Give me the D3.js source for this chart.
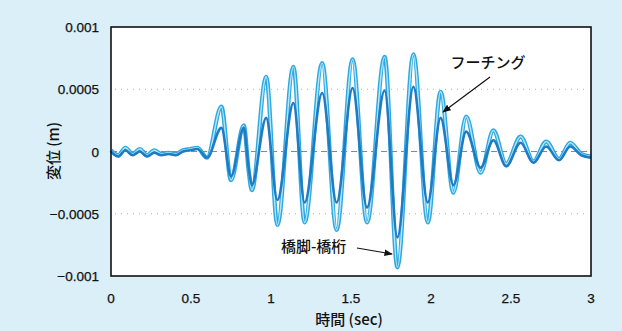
<!DOCTYPE html>
<html>
<head>
<meta charset="utf-8">
<script src="https://cdn.jsdelivr.net/npm/d3@7"></script>
<style>
  html, body { margin: 0; padding: 0; background: #dbeff8; }
  svg { display: block; }
</style>
</head>
<body>
<script>
// time (s)
const times = [0, 0.045, 0.09, 0.135, 0.18, 0.225, 0.27, 0.315, 0.36, 0.405, 0.45, 0.495, 0.54, 0.6,
  0.69, 0.75, 0.83, 0.86, 0.88, 0.97, 1.04, 1.14, 1.21, 1.32, 1.41, 1.51, 1.6, 1.71, 1.79, 1.89,
  1.98, 2.06, 2.14, 2.22, 2.31, 2.39, 2.47, 2.56, 2.64, 2.72, 2.8, 2.87, 2.94, 3.0]

// 橋脚-橋桁 (light, outer curve)
const pierDeck = [0.00001, -0.00003, 0.00003, -0.00002, 0.00002, -0.00003, 0.00001, -0.00002, -0.00001, -0.00002, 0.00001, 0.00002, 0.00003, -0.00005,
  0.00036, -0.00023, 0.00021, -0.00015, -0.00031, 0.0006, -0.00059, 0.00068, -0.00057, 0.00071, -0.00063, 0.00074, -0.00057, 0.00076, -0.00093, 0.00078,
  -0.00057, 0.00048, -0.00033, 0.00028, -0.00017, 0.00017, -0.0001, 0.00012, -0.00008, 0.00008, -0.00006, 0.00007, -0.00002, -0.00004]

// フーチング (darker, inner curve)
const footing = [0, -0.00004, 0.00001, -0.00003, 0, -0.00004, -0.00001, -0.00003, -0.00002, -0.00003, 0, 0.00001, 0.00002, -0.00005,
  0.00019, -0.0002, 0.00019, -0.00013, -0.00027, 0.00027, -0.00039, 0.00039, -0.00041, 0.00047, -0.00041, 0.00051, -0.00045, 0.00049, -0.00069, 0.00052,
  -0.00041, 0.00027, -0.00027, 0.00016, -0.00013, 0.00009, -0.00012, 0.00007, -0.00009, 0.00004, -0.00007, 0.00004, -0.00003, -0.00005]

const xTicks = [0, 0.5, 1, 1.5, 2, 2.5, 3]
const yTicks = [0.001, 0.0005, 0, -0.0005, -0.001]
const yTickLabels = ['0.001', '0.0005', '0', '\u22120.0005', '\u22120.001']

const W = 622, H = 331
const plotL = 111, plotR = 591, plotT = 27, plotB = 276
const font = '"Liberation Sans", Arial, sans-serif'
const jpFont = '"Noto Sans CJK JP", sans-serif'

const svg = d3.select('body').append('svg')
  .attr('width', W)
  .attr('height', H)

svg.append('rect')
  .attr('width', W).attr('height', H)
  .attr('fill', '#dbeff8')

const x = d3.scaleLinear().domain([0, 3]).range([plotL, plotR])
const y = d3.scaleLinear().domain([-0.001, 0.001]).range([plotB, plotT])

svg.append('rect')
  .attr('x', plotL).attr('y', plotT)
  .attr('width', plotR - plotL).attr('height', plotB - plotT)
  .attr('fill', '#fff')

// grid
svg.selectAll('.grid')
  .data([0.0005, -0.0005])
  .enter().append('line')
  .attr('x1', plotL + 4).attr('x2', plotR - 4)
  .attr('y1', d => y(d)).attr('y2', d => y(d))
  .attr('stroke', '#b0b0b0')
  .attr('stroke-width', 1)
  .attr('stroke-dasharray', '1,5')

svg.append('line')
  .attr('x1', plotL).attr('x2', plotR)
  .attr('y1', y(0)).attr('y2', y(0))
  .attr('stroke', '#3d9fd6')
  .attr('stroke-width', 1)
  .attr('stroke-dasharray', '6,4')

// curves
const pts = (vals) => times.map((t, i) => [t, vals[i]])
const line = d3.line()
  .x(d => x(d[0]))
  .y(d => y(d[1]))
  .curve(d3.curveMonotoneX)

svg.append('path')
  .attr('d', line(pts(pierDeck)))
  .attr('fill', 'none')
  .attr('stroke', '#2fa8e0')
  .attr('stroke-width', 4.2)
  .attr('stroke-linejoin', 'round')

svg.append('path')
  .attr('d', line(pts(pierDeck)))
  .attr('fill', 'none')
  .attr('stroke', '#b2e8f8')
  .attr('stroke-width', 1.4)

svg.append('path')
  .attr('d', line(pts(footing)))
  .attr('fill', 'none')
  .attr('stroke', '#1f7cc4')
  .attr('stroke-width', 2.6)
  .attr('stroke-linejoin', 'round')

// frame
svg.append('rect')
  .attr('x', plotL).attr('y', plotT)
  .attr('width', plotR - plotL).attr('height', plotB - plotT)
  .attr('fill', 'none')
  .attr('stroke', '#111')
  .attr('stroke-width', 1.6)

// tick labels
svg.selectAll('.xt')
  .data(xTicks)
  .enter().append('text')
  .attr('x', d => x(d))
  .attr('y', 303)
  .attr('text-anchor', 'middle')
  .attr('font-family', font)
  .attr('font-size', 13.5)
  .attr('fill', '#111')
  .attr('stroke', '#111')
  .attr('stroke-width', 0.25)
  .text(d => d)

svg.selectAll('.yt')
  .data(yTicks)
  .enter().append('text')
  .attr('x', 99)
  .attr('y', d => y(d) + 5)
  .attr('text-anchor', 'end')
  .attr('font-family', font)
  .attr('font-size', 13.5)
  .attr('fill', '#111')
  .attr('stroke', '#111')
  .attr('stroke-width', 0.25)
  .text((d, i) => yTickLabels[i])

// axis titles
svg.append('text')
  .attr('x', 349).attr('y', 325)
  .attr('text-anchor', 'middle')
  .attr('font-family', jpFont)
  .attr('font-size', 15)
  .attr('font-weight', 500)
  .attr('fill', '#111')
  .text('時間 (sec)')

svg.append('text')
  .attr('transform', 'translate(59,151) rotate(-90)')
  .attr('text-anchor', 'middle')
  .attr('font-family', jpFont)
  .attr('font-size', 15)
  .attr('font-weight', 500)
  .attr('fill', '#111')
  .text('変位 (m)')

// annotations
svg.append('defs').append('marker')
  .attr('id', 'arr')
  .attr('viewBox', '0 0 10 10')
  .attr('refX', 9).attr('refY', 5)
  .attr('markerWidth', 7).attr('markerHeight', 7)
  .attr('orient', 'auto')
  .append('path')
  .attr('d', 'M0,1L10,5L0,9Z')
  .attr('fill', '#111')

svg.append('text')
  .attr('x', 488).attr('y', 68)
  .attr('text-anchor', 'middle')
  .attr('font-family', jpFont)
  .attr('font-size', 15)
  .attr('font-weight', 500)
  .attr('fill', '#111')
  .text('フーチング')

svg.append('line')
  .attr('x1', 490).attr('y1', 77)
  .attr('x2', 443).attr('y2', 112)
  .attr('stroke', '#111')
  .attr('stroke-width', 1.2)
  .attr('marker-end', 'url(#arr)')

svg.append('text')
  .attr('x', 281).attr('y', 252)
  .attr('font-family', jpFont)
  .attr('font-size', 15)
  .attr('font-weight', 500)
  .attr('fill', '#111')
  .text('橋脚-橋桁')

svg.append('line')
  .attr('x1', 357).attr('y1', 248)
  .attr('x2', 392).attr('y2', 254)
  .attr('stroke', '#111')
  .attr('stroke-width', 1.2)
  .attr('marker-end', 'url(#arr)')
</script>
</body>
</html>
